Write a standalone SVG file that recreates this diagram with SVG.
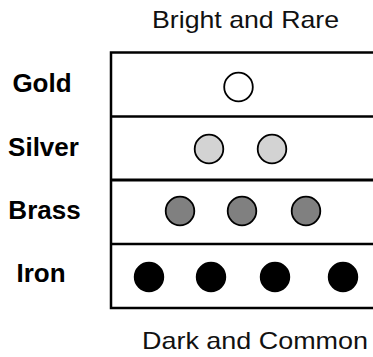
<svg xmlns="http://www.w3.org/2000/svg" width="373" height="357" viewBox="0 0 373 357">
  <style>
    .cap { font-family: "Liberation Sans", Arial, sans-serif; font-size: 24px; fill: #111; }
    .lbl { font-family: "Liberation Sans", Arial, sans-serif; font-size: 26px; font-weight: bold; fill: #000; text-anchor: middle; }
    .frame { fill: none; stroke: #000; stroke-width: 2.5; }
    .coin { stroke: #000; stroke-width: 1.8; }
    .gold { fill: #ffffff; }
    .silver { fill: #d3d3d3; }
    .brass { fill: #808080; }
    .iron { fill: #000000; }
  </style>
  <rect width="373" height="357" fill="#fff"/>

  <!-- scale captions -->
  <text class="cap" x="152" y="28" textLength="187" lengthAdjust="spacingAndGlyphs">Bright and Rare</text>
  <text class="cap" x="142" y="349" textLength="226" lengthAdjust="spacingAndGlyphs">Dark and Common</text>

  <!-- table frame -->
  <g id="frame" class="frame">
    <rect x="111" y="52.5" width="280" height="255.5"/>
    <line x1="111" y1="116.5" x2="380" y2="116.5"/>
    <line x1="111" y1="180" x2="380" y2="180" stroke-width="3"/>
    <line x1="111" y1="244" x2="380" y2="244"/>
  </g>

  <g id="row-gold">
    <text class="lbl" x="42" y="92">Gold</text>
    <circle class="coin gold" cx="238.5" cy="87" r="14.3"/>
  </g>

  <g id="row-silver">
    <text class="lbl" x="43.5" y="156">Silver</text>
    <circle class="coin silver" cx="209" cy="149" r="14.3"/>
    <circle class="coin silver" cx="272" cy="149" r="14.3"/>
  </g>

  <g id="row-brass">
    <text class="lbl" x="44.5" y="219">Brass</text>
    <circle class="coin brass" cx="180" cy="211" r="14.3"/>
    <circle class="coin brass" cx="242" cy="211" r="14.3"/>
    <circle class="coin brass" cx="306" cy="211" r="14.3"/>
  </g>

  <g id="row-iron">
    <text class="lbl" x="41" y="282">Iron</text>
    <circle class="coin iron" cx="149" cy="277" r="14.3"/>
    <circle class="coin iron" cx="211" cy="277" r="14.3"/>
    <circle class="coin iron" cx="275" cy="277" r="14.3"/>
    <circle class="coin iron" cx="343" cy="277" r="14.3"/>
  </g>

  <g id="connectors"/>
</svg>
